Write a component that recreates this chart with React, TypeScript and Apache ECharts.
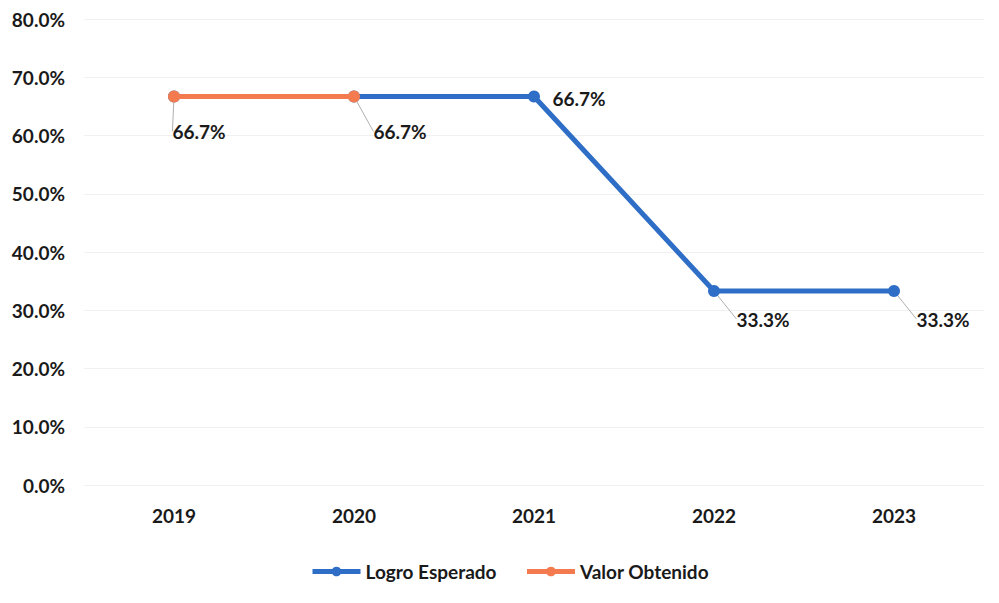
import React, { useEffect, useRef } from "react";
import * as echarts from "echarts";

const categories = ["2019", "2020", "2021", "2022", "2023"];
const logroEsperado = [66.7, 66.7, 66.7, 33.3, 33.3];
const valorObtenido: (number | null)[] = [66.7, 66.7, null, null, null];
const yTicks = { min: 0, max: 80, interval: 10 };

const BLUE = "#2f6ec6";
const ORANGE = "#f47b4f";
const FONT = "Lato";
const FS = 19;

const blueLabelIdx = [2, 3, 4];
const orangeLabelIdx = [0, 1];
const labelShift: Record<number, [number, number]> = {
  0: [25, 35],
  1: [46, 35],
  2: [45, 2],
  3: [49, 28],
  4: [49, 28],
};

export default function App() {
  const ref = useRef<HTMLDivElement>(null);
  useEffect(() => {
    if (!ref.current) return;
    const chart = echarts.init(ref.current, undefined, { renderer: "svg" });
    const mk = (vals: (number | null)[], showIdx: number[]) =>
      vals.map((v, i) => ({
        value: v,
        label: { show: showIdx.includes(i) && v != null },
        labelLine: { show: i !== 2 },
      }));
    const labelCommon = {
      position: "inside" as const,
      formatter: (p: any) => Number(p.value).toFixed(1) + "%",
      color: "#1a1a1a",
      fontFamily: FONT,
      fontWeight: "bold" as const,
      fontSize: FS,
    };
    const layout = (p: any) => {
      const s = labelShift[p.dataIndex] || [0, 0];
      return { dx: s[0], dy: s[1] };
    };
    chart.setOption({
      animation: false,
      backgroundColor: "#ffffff",
      grid: { left: 84, right: 15, top: 19, bottom: 118 },
      legend: {
        top: 557,
        left: 305,
        itemWidth: 48,
        itemHeight: 12,
        itemGap: 28,
        lineStyle: { width: 5 },
        textStyle: { color: "#1a1a1a", fontFamily: FONT, fontWeight: "bold", fontSize: FS },
        data: ["Logro Esperado", "Valor Obtenido"],
      },
      xAxis: {
        type: "category",
        data: categories,
        boundaryGap: true,
        axisLine: { show: false },
        axisTick: { show: false },
        axisLabel: { color: "#1a1a1a", fontFamily: FONT, fontWeight: "bold", fontSize: FS, margin: 21 },
      },
      yAxis: {
        type: "value",
        min: yTicks.min,
        max: yTicks.max,
        interval: yTicks.interval,
        axisLine: { show: false },
        axisTick: { show: false },
        splitLine: { lineStyle: { color: "#f0f0f0", width: 1 } },
        axisLabel: {
          color: "#1a1a1a",
          fontFamily: FONT,
          fontWeight: "bold",
          fontSize: FS,
          margin: 19,
          formatter: (v: number) => v.toFixed(1) + "%",
        },
      },
      series: [
        {
          name: "Logro Esperado",
          type: "line",
          data: mk(logroEsperado, blueLabelIdx),
          color: BLUE,
          lineStyle: { color: BLUE, width: 5 },
          itemStyle: { color: BLUE },
          symbol: "circle",
          symbolSize: 12,
          label: labelCommon,
          labelLine: { show: true, lineStyle: { color: "#b0b0b0", width: 1 } },
          labelLayout: layout,
          z: 2,
        },
        {
          name: "Valor Obtenido",
          type: "line",
          data: mk(valorObtenido, orangeLabelIdx),
          color: ORANGE,
          lineStyle: { color: ORANGE, width: 5 },
          itemStyle: { color: ORANGE },
          symbol: "circle",
          symbolSize: 12,
          label: labelCommon,
          labelLine: { show: true, lineStyle: { color: "#b0b0b0", width: 1 } },
          labelLayout: layout,
          z: 3,
        },
      ],
    });
    return () => chart.dispose();
  }, []);
  return (
    <div
      ref={ref}
      style={{ position: "fixed", left: 0, top: 0, width: 999, height: 603 }}
    />
  );
}
